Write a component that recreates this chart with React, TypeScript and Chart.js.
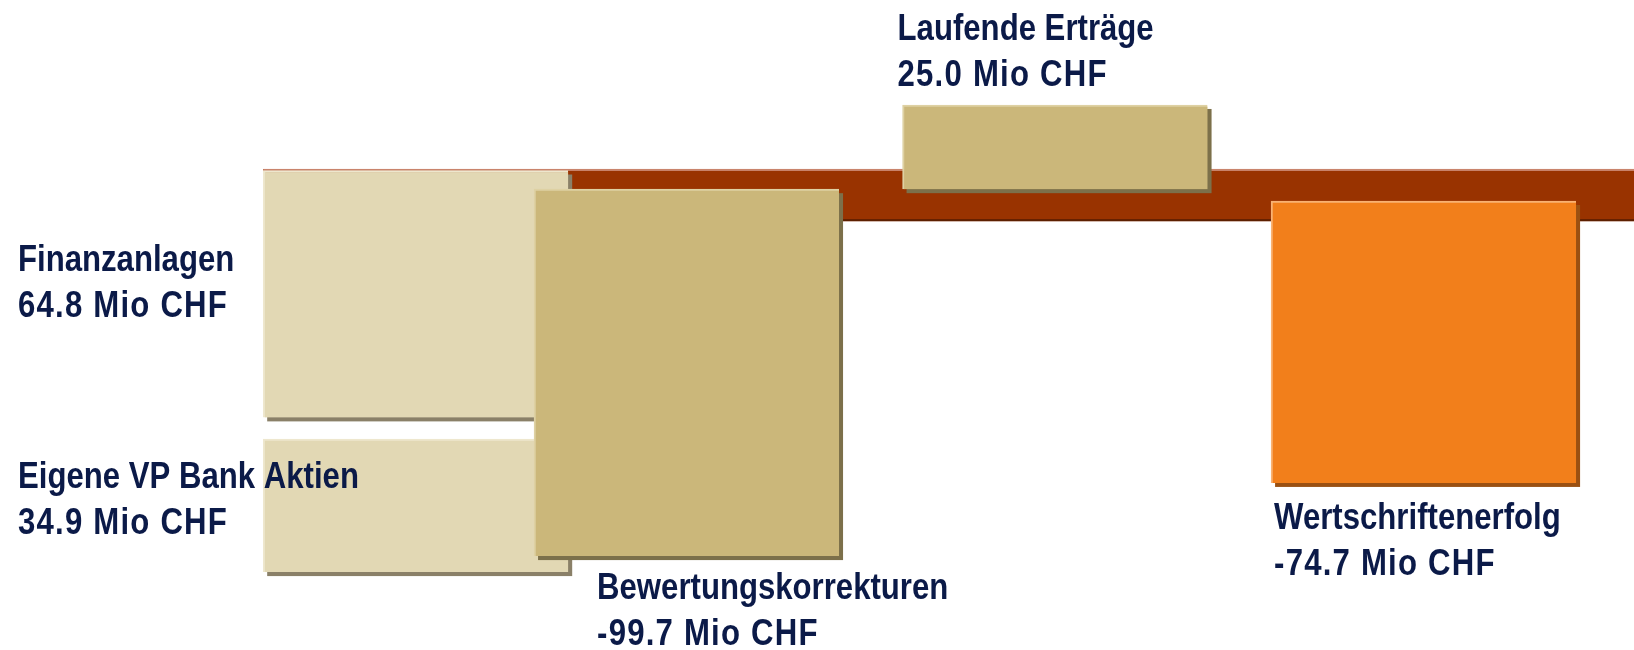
import React, { useEffect, useRef } from "react";
import { Chart, registerables } from "chart.js";

Chart.register(...registerables);

// ---- data ----
const categories = [
  "Finanzanlagen",
  "Eigene VP Bank Aktien",
  "Bewertungskorrekturen",
  "Laufende Erträge",
  "Wertschriftenerfolg",
];
const values = [64.8, 34.9, -99.7, 25.0, -74.7];
// floating bar extents as drawn in the picture (Mio CHF)
const barStart = [0, -70.5, -4.9, 17.2, -8.0];
const barEnd = [-64.8, -105.4, -101.2, -4.9, -82.0];
const unit = "Mio CHF";
// decorative baseline band (Mio CHF)
const bandRange = [0.4, -13.3];

// ---- layout / style (kept apart from the data) ----
const slotPos = [0.265, 0.265, 1, 2, 3];
const fillColors = ["#E2D8B4", "#E2D8B4", "#CBB77A", "#CBB77A", "#F27F1B"];
const edgeColors = ["#EEE7CE", "#EEE7CE", "#DED1A3", "#DED1A3", "#F9B273"];
const shadowColors = ["#8A8068", "#8A8068", "#7C704A", "#7C704A", "#9A5012"];
const labelLayout = [
  { anchor: "left", x: 18, dy: -23 },
  { anchor: "left", x: 18, dy: -18 },
  { anchor: "below", dx: 63, dy: 43 },
  { anchor: "above", dx: -5, dy: -65 },
  { anchor: "below", dx: 3, dy: 46 },
];
const lineGap = 46;
const textColor = "#0B1A48";
const labelFont = "bold 36px 'Liberation Sans', Arial, sans-serif";
const textSqueeze = 0.865;
const valueSpacing = "1.4px";

function fmt(v: number) {
  return v.toFixed(1) + " " + unit;
}

function barRect(el: any) {
  const { x, y, base, width } = el.getProps(["x", "y", "base", "width"], true);
  return {
    left: x - width / 2,
    right: x + width / 2,
    top: Math.min(y, base),
    bottom: Math.max(y, base),
  };
}

const bandPlugin = {
  id: "band",
  beforeDatasetsDraw(chart: any) {
    const { ctx, chartArea, scales } = chart;
    const first = chart.getDatasetMeta(0).data[0];
    if (!first) return;
    const r = barRect(first);
    const top = scales.y.getPixelForValue(bandRange[0]);
    const bottom = scales.y.getPixelForValue(bandRange[1]);
    const w = chartArea.right - r.left;
    ctx.save();
    ctx.fillStyle = "#993300";
    ctx.fillRect(r.left, top, w, bottom - top);
    ctx.fillStyle = "#C9846C";
    ctx.fillRect(r.left, top, w, 2);
    ctx.fillStyle = "#5C1F00";
    ctx.fillRect(r.left, bottom - 2, w, 2);
    ctx.restore();
  },
};

const shadowPlugin = {
  id: "barShadow",
  beforeDatasetDraw(chart: any, args: any) {
    const ctx = chart.ctx;
    ctx.save();
    ctx.fillStyle = shadowColors[args.index];
    args.meta.data.forEach((el: any) => {
      const r = barRect(el);
      ctx.fillRect(r.left + 4, r.top + 4, r.right - r.left, r.bottom - r.top);
    });
    ctx.restore();
  },
};

function drawText(
  ctx: CanvasRenderingContext2D,
  text: string,
  x: number,
  y: number,
  spacing: string
) {
  ctx.save();
  (ctx as any).letterSpacing = spacing;
  ctx.translate(x, y);
  ctx.scale(textSqueeze, 1);
  ctx.fillText(text, 0, 0);
  ctx.restore();
}

const labelPlugin = {
  id: "barLabels",
  afterDatasetsDraw(chart: any) {
    const { ctx, chartArea } = chart;
    ctx.save();
    ctx.font = labelFont;
    ctx.fillStyle = textColor;
    ctx.textBaseline = "alphabetic";
    ctx.textAlign = "left";
    categories.forEach((name, i) => {
      const el = chart.getDatasetMeta(i).data[0];
      if (!el) return;
      const r = barRect(el);
      const L: any = labelLayout[i];
      let x: number, y: number;
      if (L.anchor === "left") {
        x = chartArea.left + L.x;
        y = (r.top + r.bottom) / 2 + L.dy;
      } else if (L.anchor === "below") {
        x = r.left + L.dx;
        y = r.bottom + L.dy;
      } else {
        x = r.left + L.dx;
        y = r.top + L.dy;
      }
      drawText(ctx, name, x, y, "0px");
      drawText(ctx, fmt(values[i]), x, y + lineGap, valueSpacing);
    });
    ctx.restore();
  },
};

export default function App() {
  const ref = useRef<HTMLCanvasElement | null>(null);

  useEffect(() => {
    if (!ref.current) return;
    const datasets = categories.map((c, i) => ({
      label: c,
      data: [{ x: slotPos[i], y: [barStart[i], barEnd[i]] }],
      backgroundColor: fillColors[i],
      borderColor: edgeColors[i],
      borderWidth: { top: 2, left: 2, right: 0, bottom: 0 },
      borderSkipped: false,
      barThickness: 305,
      grouped: false,
      order: categories.length - i,
    }));
    const chart = new Chart(ref.current, {
      type: "bar",
      data: { datasets } as any,
      options: {
        responsive: false,
        animation: false,
        devicePixelRatio: 1,
        events: [],
        layout: { padding: 0 },
        plugins: {
          legend: { display: false },
          tooltip: { enabled: false },
          title: { display: false },
        },
        scales: {
          x: { type: "linear", min: -0.863, max: 3.571, offset: false, display: false },
          y: { type: "linear", min: -125.85, max: 44.75, display: false },
        },
      } as any,
      plugins: [bandPlugin, shadowPlugin, labelPlugin],
    });
    return () => chart.destroy();
  }, []);

  return (
    <div style={{ position: "fixed", left: 0, top: 0, width: 1634, height: 650, background: "#fff" }}>
      <canvas ref={ref} width={1634} height={650} style={{ display: "block" }} />
    </div>
  );
}
